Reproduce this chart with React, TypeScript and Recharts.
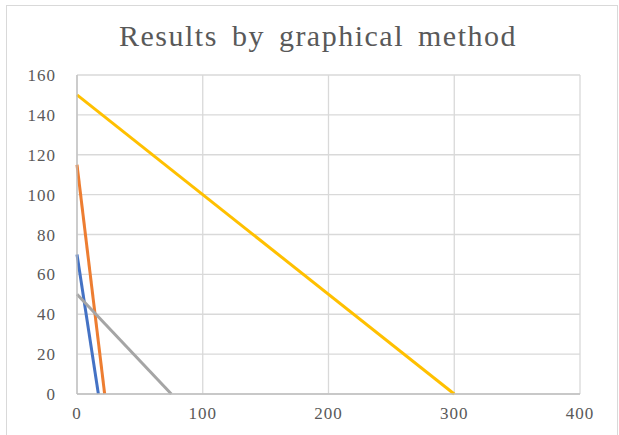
import React from "react";
import { LineChart, Line, XAxis, YAxis, CartesianGrid } from "recharts";

const xTicks = [0, 100, 200, 300, 400];
const yTicks = [0, 20, 40, 60, 80, 100, 120, 140, 160];

const blueLine = [
  { x: 0, y: 70 },
  { x: 17, y: 0 },
];
const orangeLine = [
  { x: 0, y: 115 },
  { x: 22, y: 0 },
];
const grayLine = [
  { x: 0, y: 50 },
  { x: 75, y: 0 },
];
const yellowLine = [
  { x: 0, y: 150 },
  { x: 300, y: 0 },
];

const series = [
  { name: "c1", data: blueLine, color: "#4472C4" },
  { name: "c2", data: orangeLine, color: "#ED7D31" },
  { name: "c3", data: grayLine, color: "#A5A5A5" },
  { name: "c4", data: yellowLine, color: "#FFC000" },
];

const font = "'Liberation Serif', 'Times New Roman', serif";

export default function App() {
  return (
    <div style={{ position: "absolute", left: 0, top: 0, width: 619, height: 435, overflow: "hidden", background: "#fff" }}>
      <div
        style={{
          position: "absolute",
          left: 6,
          top: 5,
          width: 612,
          height: 440,
          border: "1px solid #d9d9d9",
          boxSizing: "border-box",
        }}
      />
      <div
        style={{
          position: "absolute",
          left: 0,
          top: 19,
          width: 636,
          textAlign: "center",
          fontFamily: font,
          fontSize: 30,
          color: "#595959",
          wordSpacing: 5,
          letterSpacing: 1.5,
        }}
      >
        Results by graphical method
      </div>
      <div style={{ position: "absolute", left: 0, top: 0 }}>
        <LineChart width={619} height={435} margin={{ top: 75, right: 39, bottom: 11, left: 20 }}>
          <CartesianGrid stroke="#d9d9d9" strokeWidth={1.3} />
          <XAxis
            dataKey="x"
            type="number"
            domain={[0, 400]}
            ticks={xTicks}
            tickLine={false}
            tickSize={0}
            tickMargin={13}
            height={30}
            axisLine={{ stroke: "#bfbfbf", strokeWidth: 1.3 }}
            tick={{ fill: "#595959", fontSize: 17, fontFamily: font, letterSpacing: 1 }}
            allowDuplicatedCategory={false}
          />
          <YAxis
            type="number"
            domain={[0, 160]}
            ticks={yTicks}
            tickLine={false}
            tickSize={0}
            tickMargin={21}
            width={57}
            axisLine={{ stroke: "#bfbfbf", strokeWidth: 1.3 }}
            tick={{ fill: "#595959", fontSize: 17, fontFamily: font, letterSpacing: 1 }}
          />
          {series.map((s) => (
            <Line
              key={s.name}
              data={s.data}
              dataKey="y"
              type="linear"
              stroke={s.color}
              strokeWidth={3}
              dot={false}
              activeDot={false}
              isAnimationActive={false}
            />
          ))}
        </LineChart>
      </div>
    </div>
  );
}
